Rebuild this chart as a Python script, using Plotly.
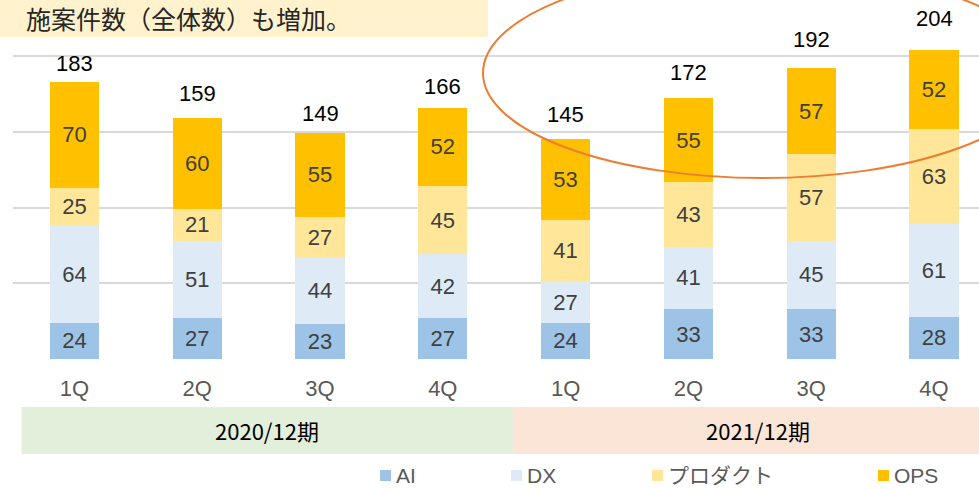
import plotly.graph_objects as go

# ---- data ----
quarters = ["1Q", "2Q", "3Q", "4Q", "1Q", "2Q", "3Q", "4Q"]
periods = ["2020/12期", "2021/12期"]
series_names = ["AI", "DX", "プロダクト", "OPS"]
ai = [24, 27, 23, 27, 24, 33, 33, 28]
dx = [64, 51, 44, 42, 27, 41, 45, 61]
product = [25, 21, 27, 45, 41, 43, 57, 63]
ops = [70, 60, 55, 52, 53, 55, 57, 52]
totals = [183, 159, 149, 166, 145, 172, 192, 204]
headline = "施案件数（全体数）も増加。"

# style: pixel offset of each total label above its bar (as placed in the original)
total_label_shift = [4, 10, 5, 7, 10, 11, 14, 17]

colors = ["#9DC3E6", "#DEEBF7", "#FFE699", "#FFC000"]
series_values = [ai, dx, product, ops]

W, H = 979, 489
L, R, T, B = 13, 0, 0, 130
PW, PH = W - L - R, H - T - B


def pxx(p):
    return (p - L) / PW


def pxy(p):
    return (H - B - p) / PH


xs = list(range(len(quarters)))
fig = go.Figure()
for name, vals, col in zip(series_names, series_values, colors):
    fig.add_trace(go.Bar(
        x=xs, y=vals, name=name, width=0.4,
        marker=dict(color=col, line=dict(width=0)),
        text=[str(v) for v in vals], textposition="inside",
        insidetextanchor="middle", constraintext="none",
        textfont=dict(family="Liberation Sans, Arial", size=22, color="#404040"),
        showlegend=False, hoverinfo="skip",
    ))

annotations = []
for x, t, s in zip(xs, totals, total_label_shift):
    annotations.append(dict(x=x, y=t, xref="x", yref="y", text=str(t),
                            showarrow=False, yanchor="bottom", yshift=s,
                            font=dict(family="Liberation Sans, Arial", size=22, color="#000000")))

shapes = []
# period bands
band_cols = ["#E2EFDA", "#FBE5D6"]
for i, (p, c) in enumerate(zip(periods, band_cols)):
    x0 = -0.43 + 4 * i
    x1 = x0 + 4
    shapes.append(dict(type="rect", xref="x", yref="paper", x0=x0, x1=x1,
                       y0=pxy(454), y1=pxy(407), fillcolor=c, line=dict(width=0), layer="below"))
    annotations.append(dict(x=(x0 + x1) / 2, y=pxy(430), xref="x", yref="paper", text=p,
                            showarrow=False, yanchor="middle",
                            font=dict(family="Noto Sans CJK JP", size=22, color="#000000")))

# headline box
shapes.append(dict(type="rect", xref="paper", yref="paper", x0=pxx(0), x1=pxx(488),
                   y0=pxy(37), y1=pxy(0), fillcolor="#FFF2CC", line=dict(width=0), layer="below"))
annotations.append(dict(x=pxx(24), y=pxy(18), xref="paper", yref="paper", text=headline,
                        showarrow=False, xanchor="left", yanchor="middle",
                        font=dict(family="Noto Sans CJK JP", size=25, color="#262626")))

# ellipse highlight
shapes.append(dict(type="circle", xref="paper", yref="paper", x0=pxx(483), x1=pxx(1043),
                   y0=pxy(178), y1=pxy(-32), line=dict(color="#ED7D31", width=2)))

# manual legend
leg_x = [380, 511, 652, 878]
for name, col, lx in zip(series_names, colors, leg_x):
    shapes.append(dict(type="rect", xref="paper", yref="paper", x0=pxx(lx), x1=pxx(lx + 11),
                       y0=pxy(481), y1=pxy(470), fillcolor=col, line=dict(width=0)))
    annotations.append(dict(x=pxx(lx + 14), y=pxy(475), xref="paper", yref="paper", text=name,
                            showarrow=False, xanchor="left", yanchor="middle",
                            font=dict(family="Liberation Sans, Noto Sans CJK JP", size=21, color="#595959")))

fig.update_layout(
    width=W, height=H, barmode="stack",
    margin=dict(l=L, r=R, t=T, b=B),
    plot_bgcolor="white", paper_bgcolor="white",
    shapes=shapes, annotations=annotations,
    xaxis=dict(range=[-0.5, -0.5 + PW / 122.8], tickvals=xs, ticktext=quarters,
               showgrid=False, zeroline=False, showline=False,
               ticks="outside", ticklen=10, tickcolor="rgba(0,0,0,0)",
               tickfont=dict(family="Liberation Sans, Arial", size=22, color="#595959")),
    yaxis=dict(range=[0, PH / 1.515], tickvals=[0, 50, 100, 150, 200], showticklabels=False,
               showgrid=True, gridcolor="#D9D9D9", gridwidth=1.5, zeroline=False,
               showline=False),
)
fig.write_html("out.html", config={"displayModeBar": False},
               post_script="document.body.style.margin='0';document.body.style.overflow='hidden';")
